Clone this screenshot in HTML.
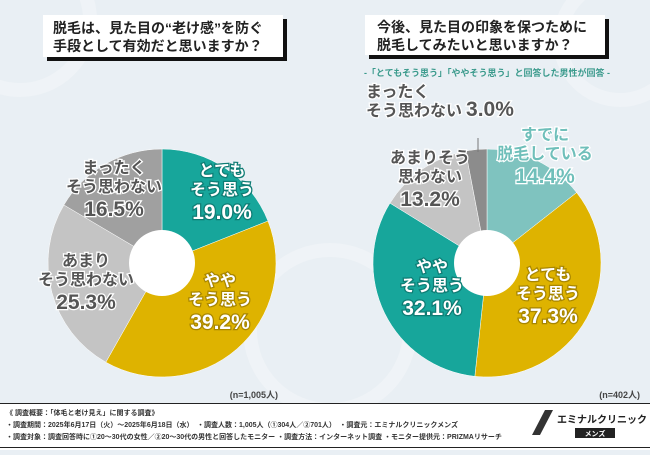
<!DOCTYPE html>
<html><head><meta charset="utf-8">
<style>
body{margin:0;width:650px;height:450px;overflow:hidden;background:#e9eff4;font-family:"Liberation Sans","Noto Sans CJK JP",sans-serif;}
svg text{font-family:"Liberation Sans","Noto Sans CJK JP",sans-serif;font-weight:bold;}
</style></head><body>
<svg width="650" height="450">
<g opacity="0.5">
<circle cx="20" cy="20" r="70" fill="none" stroke="#f5f8fa" stroke-width="14"/>
<circle cx="620" cy="40" r="60" fill="none" stroke="#f5f8fa" stroke-width="14"/>
<circle cx="330" cy="330" r="80" fill="none" stroke="#f5f8fa" stroke-width="14"/>
</g>
<g id="left"></g>
<g id="right"></g>
<g>
<rect x="47" y="19" width="240" height="42" fill="#111"/>
<rect x="43" y="15" width="240" height="42" fill="#fff"/>
<text x="53" y="33" font-size="14" fill="#222" font-weight="normal">脱毛は、見た目の“老け感”を防ぐ</text>
<text x="53" y="51" font-size="14" fill="#222" font-weight="normal">手段として有効だと思いますか？</text>
</g>
<g>
<rect x="369" y="19" width="240" height="40" fill="#111"/>
<rect x="365" y="15" width="240" height="40" fill="#fff"/>
<text x="377" y="32" font-size="14" fill="#222" font-weight="normal">今後、見た目の印象を保つために</text>
<text x="377" y="50" font-size="14" fill="#222" font-weight="normal">脱毛してみたいと思いますか？</text>
</g>
<text x="487" y="76" font-size="9" fill="#3a9a8c" text-anchor="middle">-「とてもそう思う」「ややそう思う」と回答した男性が回答 -</text>
<text x="278" y="398" font-size="9" fill="#444" font-weight="normal" text-anchor="end">(n=1,005人)</text>
<text x="640" y="398" font-size="9" fill="#444" font-weight="normal" text-anchor="end">(n=402人)</text>
<line x1="478" y1="138" x2="478" y2="152" stroke="#777"/>
<g>
<rect x="0" y="403" width="650" height="47" fill="#fff"/>
<line x1="0" y1="403.5" x2="650" y2="403.5" stroke="#222"/>
<line x1="0" y1="447.5" x2="650" y2="447.5" stroke="#222"/>
<text x="6" y="415" font-size="7" fill="#333" font-weight="normal">《 調査概要：「体毛と老け見え」に関する調査》</text>
<text x="6" y="427" font-size="7" fill="#333" font-weight="normal">・調査期間：2025年6月17日（火）～2025年6月18日（水）　・調査人数：1,005人（①304人／②701人）　・調査元：エミナルクリニックメンズ</text>
<text x="6" y="439" font-size="7" fill="#333" font-weight="normal">・調査対象：調査回答時に①20～30代の女性／②20～30代の男性と回答したモニター ・調査方法：インターネット調査 ・モニター提供元：PRIZMAリサーチ</text>
<g>
<path d="M545 410 L553 410 L540 435 L532 435Z" fill="#333"/>
<text x="557" y="423" font-size="10" fill="#222">エミナルクリニック</text>
<rect x="575" y="428" width="40" height="10" fill="#222"/>
<text x="595" y="436" font-size="7" fill="#fff" text-anchor="middle">メンズ</text>
</g>
</g>
</svg>
<script>
const leftCategories=["とても\nそう思う","やや\nそう思う","あまり\nそう思わない","まったく\nそう思わない"];
const leftValues=[19.0,39.2,25.3,16.5];
const leftColors=["#17a69b","#deb300","#c4c4c4","#a0a0a0"];
const rightCategories=["すでに\n脱毛している","とても\nそう思う","やや\nそう思う","あまりそう\n思わない","まったく\nそう思わない"];
const rightValues=[14.4,37.3,32.1,13.2,3.0];
const rightColors=["#7fc3bf","#deb300","#17a69b","#c4c4c4","#8c8c8c"];
const NS="http://www.w3.org/2000/svg";
function pt(cx,cy,r,a){return [cx+r*Math.sin(a),cy-r*Math.cos(a)];}
function pie(g,cx,cy,R,vals,cols,cats,labelCfg){
  const tot=vals.reduce((a,b)=>a+b,0);let a0=0;
  vals.forEach((v,i)=>{
    const a1=a0+v/tot*2*Math.PI;
    const p0=pt(cx,cy,R,a0),p1=pt(cx,cy,R,a1);
    const path=document.createElementNS(NS,"path");
    path.setAttribute("d",`M${cx},${cy} L${p0[0]},${p0[1]} A${R},${R} 0 ${a1-a0>Math.PI?1:0} 1 ${p1[0]},${p1[1]}Z`);
    path.setAttribute("fill",cols[i]);path.setAttribute("stroke","#fff");path.setAttribute("stroke-width","0.5");
    
    
    g.appendChild(path);
    a0=a1;
  });
  const h=document.createElementNS(NS,"circle");h.setAttribute("cx",cx);h.setAttribute("cy",cy);h.setAttribute("r",33);h.setAttribute("fill","#fff");
  
  
  g.appendChild(h);
  vals.forEach((v,i)=>{
    const c=labelCfg[i];
    const t=document.createElementNS(NS,"text");
    t.setAttribute("text-anchor",c.anchor||"middle");t.setAttribute("fill",c.fill);
    t.setAttribute("stroke",c.stroke);t.setAttribute("stroke-width","2.5");t.setAttribute("paint-order","stroke");
    
    
    const lines=cats[i].split("\n");
    const y0=c.y-lines.length*10;
    lines.forEach((ln,k)=>{const s=document.createElementNS(NS,"tspan");s.setAttribute("x",c.x);s.setAttribute("y",y0+k*19);s.setAttribute("font-size","16");s.textContent=ln;t.appendChild(s);});
    const s=document.createElementNS(NS,"tspan");s.setAttribute("font-size","21");
    if(c.inline){s.setAttribute("dx","4");}else{s.setAttribute("x",c.x);s.setAttribute("y",y0+lines.length*19+5);}
    s.textContent=v.toFixed(1)+"%";t.appendChild(s);
    g.appendChild(t);
  });
}
pie(document.getElementById("left"),162,263,114,leftValues,leftColors,leftCategories,[
 {x:222,y:196,fill:"#fff",stroke:"#0e7c74"},
 {x:220,y:306,fill:"#fff",stroke:"#a88600"},
 {x:86,y:286,fill:"#555",stroke:"#fff"},
 {x:114,y:193,fill:"#555",stroke:"#fff"}]);
pie(document.getElementById("right"),487,263,114,rightValues,rightColors,rightCategories,[
 {x:545,y:160,fill:"#6fbfba",stroke:"#fff"},
 {x:548,y:300,fill:"#fff",stroke:"#a88600"},
 {x:432,y:292,fill:"#fff",stroke:"#0e7c74"},
 {x:430,y:183,fill:"#555",stroke:"#fff"},
 {x:366,y:117,anchor:"start",inline:true,fill:"#555",stroke:"#fff"}]);
</script>
</body></html>
